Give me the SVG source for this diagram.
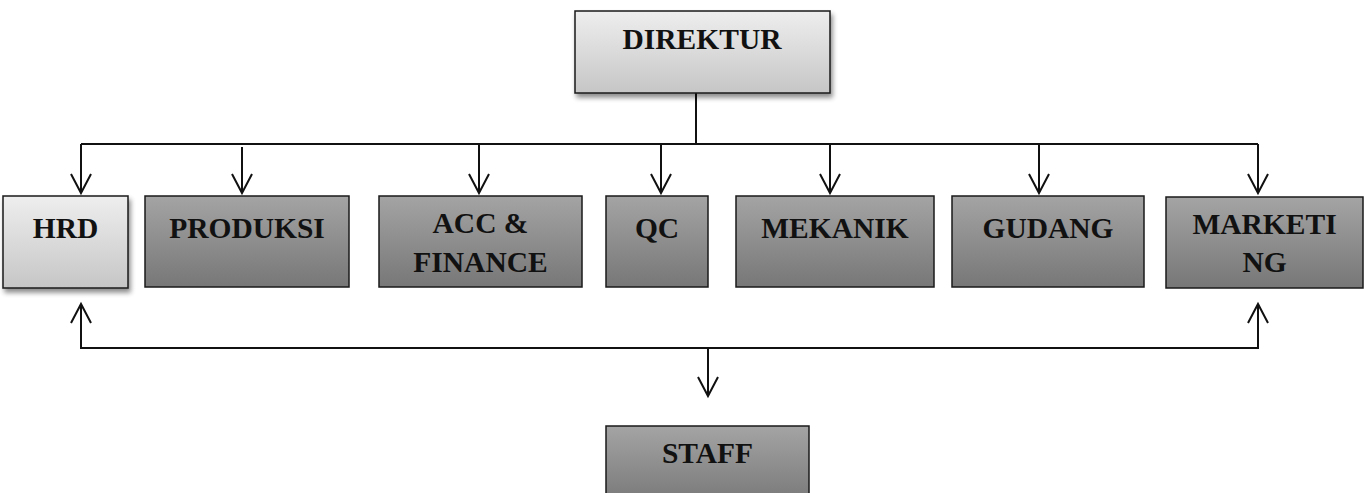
<svg xmlns="http://www.w3.org/2000/svg" width="1364" height="493" viewBox="0 0 1364 493">
<style>
.box{stroke:#1a1a1a;stroke-width:1.5}
.light{fill:url(#gLight)}
.dark{fill:url(#gDark)}
.lbl{font-family:"Liberation Serif","Times New Roman",serif;font-weight:bold;font-size:29.5px;fill:#111;text-anchor:middle}
.conn{fill:none;stroke:#111;stroke-width:2}
.head{fill:none;stroke:#111;stroke-width:2;stroke-linejoin:miter}
</style>
<defs>
<linearGradient id="gLight" x1="0" y1="0" x2="0" y2="1">
<stop offset="0" stop-color="#eeeeee"/>
<stop offset="1" stop-color="#c6c6c6"/>
</linearGradient>
<linearGradient id="gDark" x1="0" y1="0" x2="0" y2="1">
<stop offset="0" stop-color="#a4a4a4"/>
<stop offset="1" stop-color="#777777"/>
</linearGradient>
<filter id="shadow" x="-10%" y="-10%" width="130%" height="130%">
<feGaussianBlur in="SourceAlpha" stdDeviation="2.5"/>
<feOffset dx="2" dy="4" result="b"/>
<feComponentTransfer><feFuncA type="linear" slope="0.45"/></feComponentTransfer>
<feMerge><feMergeNode/><feMergeNode in="SourceGraphic"/></feMerge>
</filter>
</defs>
<rect width="1364" height="493" fill="#ffffff"/>

<g id="connectors">
<path class="conn" d="M696 93 V144"/>
<path class="conn" d="M81 144 H1258"/>
<path class="conn" d="M81 144 V193"/>
<path class="conn" d="M242 147 V193"/>
<path class="conn" d="M479 144 V193"/>
<path class="conn" d="M661 144 V193"/>
<path class="conn" d="M830 144 V193"/>
<path class="conn" d="M1039 143 V193"/>
<path class="conn" d="M1258 144 V193"/>
<path class="conn" d="M81 304 V348 H1258 V304"/>
<path class="conn" d="M708 348 V396"/>
<g class="head">
<path d="M71 174 L81 193 L91 174"/>
<path d="M232 174 L242 193 L252 174"/>
<path d="M469 174 L479 193 L489 174"/>
<path d="M651 174 L661 193 L671 174"/>
<path d="M820 174 L830 193 L840 174"/>
<path d="M1029 174 L1039 193 L1049 174"/>
<path d="M1248 174 L1258 193 L1268 174"/>
<path d="M71 323 L81 304 L91 323"/>
<path d="M1248 323 L1258 304 L1268 323"/>
<path d="M698 377 L708 396 L718 377"/>
</g>
</g>

<g id="direktur"><rect class="box light" x="575" y="11" width="255" height="82" filter="url(#shadow)"/><text class="lbl" x="702" y="49">DIREKTUR</text></g>
<g id="hrd"><rect class="box light" x="3" y="196" width="125" height="92" filter="url(#shadow)"/><text class="lbl" x="65.5" y="238">HRD</text></g>
<g id="produksi"><rect class="box dark" x="145" y="196" width="204" height="91"/><text class="lbl" x="247" y="238">PRODUKSI</text></g>
<g id="acc"><rect class="box dark" x="379" y="196" width="203" height="91"/><text class="lbl" x="480.5" y="233">ACC &amp;</text><text class="lbl" x="480.5" y="272">FINANCE</text></g>
<g id="qc"><rect class="box dark" x="606" y="196" width="102" height="91"/><text class="lbl" x="657" y="238">QC</text></g>
<g id="mekanik"><rect class="box dark" x="736" y="196" width="198" height="91"/><text class="lbl" x="835" y="238">MEKANIK</text></g>
<g id="gudang"><rect class="box dark" x="952" y="196" width="192" height="91"/><text class="lbl" x="1048" y="238">GUDANG</text></g>
<g id="marketing"><rect class="box dark" x="1166" y="197" width="197" height="91"/><text class="lbl" x="1264.5" y="234">MARKETI</text><text class="lbl" x="1264.5" y="272">NG</text></g>
<g id="staff"><rect class="box dark" x="606" y="426" width="203" height="80"/><text class="lbl" x="707.5" y="463">STAFF</text></g>
</svg>
